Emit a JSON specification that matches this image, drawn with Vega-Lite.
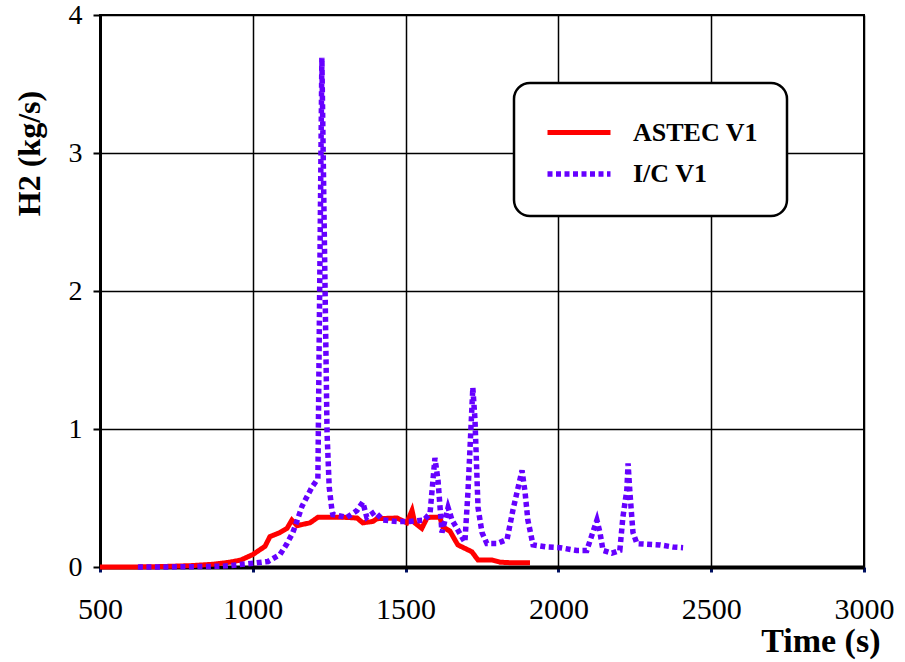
{
  "$schema": "https://vega.github.io/schema/vega-lite/v6.json",
  "width": 764,
  "height": 552,
  "autosize": {"type": "none"},
  "padding": {"left": 100, "top": 15, "right": 41, "bottom": 95},
  "background": "white",
  "config": {
    "view": {"stroke": "black", "strokeWidth": 2},
    "font": "Liberation Serif"
  },
  "data": {
    "values": [
      {"t": 500, "v": 0, "s": "ASTEC V1"},
      {"t": 600, "v": 0, "s": "ASTEC V1"},
      {"t": 700, "v": 0.003, "s": "ASTEC V1"},
      {"t": 800, "v": 0.01, "s": "ASTEC V1"},
      {"t": 870, "v": 0.02, "s": "ASTEC V1"},
      {"t": 925, "v": 0.035, "s": "ASTEC V1"},
      {"t": 960, "v": 0.05, "s": "ASTEC V1"},
      {"t": 1000, "v": 0.09, "s": "ASTEC V1"},
      {"t": 1040, "v": 0.15, "s": "ASTEC V1"},
      {"t": 1056, "v": 0.22, "s": "ASTEC V1"},
      {"t": 1089, "v": 0.25, "s": "ASTEC V1"},
      {"t": 1112, "v": 0.28, "s": "ASTEC V1"},
      {"t": 1128, "v": 0.34, "s": "ASTEC V1"},
      {"t": 1145, "v": 0.3, "s": "ASTEC V1"},
      {"t": 1187, "v": 0.32, "s": "ASTEC V1"},
      {"t": 1213, "v": 0.36, "s": "ASTEC V1"},
      {"t": 1253, "v": 0.36, "s": "ASTEC V1"},
      {"t": 1300, "v": 0.36, "s": "ASTEC V1"},
      {"t": 1341, "v": 0.355, "s": "ASTEC V1"},
      {"t": 1360, "v": 0.32, "s": "ASTEC V1"},
      {"t": 1393, "v": 0.33, "s": "ASTEC V1"},
      {"t": 1406, "v": 0.35, "s": "ASTEC V1"},
      {"t": 1472, "v": 0.355, "s": "ASTEC V1"},
      {"t": 1504, "v": 0.32, "s": "ASTEC V1"},
      {"t": 1521, "v": 0.41, "s": "ASTEC V1"},
      {"t": 1530, "v": 0.32, "s": "ASTEC V1"},
      {"t": 1553, "v": 0.28, "s": "ASTEC V1"},
      {"t": 1570, "v": 0.355, "s": "ASTEC V1"},
      {"t": 1580, "v": 0.36, "s": "ASTEC V1"},
      {"t": 1612, "v": 0.36, "s": "ASTEC V1"},
      {"t": 1622, "v": 0.29, "s": "ASTEC V1"},
      {"t": 1645, "v": 0.26, "s": "ASTEC V1"},
      {"t": 1671, "v": 0.16, "s": "ASTEC V1"},
      {"t": 1717, "v": 0.11, "s": "ASTEC V1"},
      {"t": 1737, "v": 0.05, "s": "ASTEC V1"},
      {"t": 1783, "v": 0.05, "s": "ASTEC V1"},
      {"t": 1809, "v": 0.035, "s": "ASTEC V1"},
      {"t": 1850, "v": 0.03, "s": "ASTEC V1"},
      {"t": 1907, "v": 0.03, "s": "ASTEC V1"},
      {"t": 624, "v": 0, "s": "I/C V1"},
      {"t": 700, "v": 0, "s": "I/C V1"},
      {"t": 800, "v": 0.002, "s": "I/C V1"},
      {"t": 900, "v": 0.006, "s": "I/C V1"},
      {"t": 925, "v": 0.01, "s": "I/C V1"},
      {"t": 1013, "v": 0.03, "s": "I/C V1"},
      {"t": 1050, "v": 0.04, "s": "I/C V1"},
      {"t": 1089, "v": 0.09, "s": "I/C V1"},
      {"t": 1112, "v": 0.17, "s": "I/C V1"},
      {"t": 1131, "v": 0.25, "s": "I/C V1"},
      {"t": 1148, "v": 0.355, "s": "I/C V1"},
      {"t": 1161, "v": 0.44, "s": "I/C V1"},
      {"t": 1194, "v": 0.58, "s": "I/C V1"},
      {"t": 1213, "v": 0.64, "s": "I/C V1"},
      {"t": 1226, "v": 3.69, "s": "I/C V1"},
      {"t": 1243, "v": 0.97, "s": "I/C V1"},
      {"t": 1250, "v": 0.58, "s": "I/C V1"},
      {"t": 1259, "v": 0.41, "s": "I/C V1"},
      {"t": 1262, "v": 0.38, "s": "I/C V1"},
      {"t": 1308, "v": 0.36, "s": "I/C V1"},
      {"t": 1341, "v": 0.41, "s": "I/C V1"},
      {"t": 1360, "v": 0.47, "s": "I/C V1"},
      {"t": 1373, "v": 0.36, "s": "I/C V1"},
      {"t": 1399, "v": 0.4, "s": "I/C V1"},
      {"t": 1426, "v": 0.34, "s": "I/C V1"},
      {"t": 1472, "v": 0.33, "s": "I/C V1"},
      {"t": 1514, "v": 0.33, "s": "I/C V1"},
      {"t": 1560, "v": 0.34, "s": "I/C V1"},
      {"t": 1580, "v": 0.39, "s": "I/C V1"},
      {"t": 1596, "v": 0.79, "s": "I/C V1"},
      {"t": 1606, "v": 0.63, "s": "I/C V1"},
      {"t": 1619, "v": 0.25, "s": "I/C V1"},
      {"t": 1639, "v": 0.43, "s": "I/C V1"},
      {"t": 1652, "v": 0.34, "s": "I/C V1"},
      {"t": 1694, "v": 0.18, "s": "I/C V1"},
      {"t": 1704, "v": 0.54, "s": "I/C V1"},
      {"t": 1720, "v": 1.3, "s": "I/C V1"},
      {"t": 1727, "v": 1.07, "s": "I/C V1"},
      {"t": 1737, "v": 0.43, "s": "I/C V1"},
      {"t": 1750, "v": 0.25, "s": "I/C V1"},
      {"t": 1766, "v": 0.17, "s": "I/C V1"},
      {"t": 1799, "v": 0.17, "s": "I/C V1"},
      {"t": 1832, "v": 0.2, "s": "I/C V1"},
      {"t": 1851, "v": 0.41, "s": "I/C V1"},
      {"t": 1881, "v": 0.7, "s": "I/C V1"},
      {"t": 1891, "v": 0.54, "s": "I/C V1"},
      {"t": 1900, "v": 0.34, "s": "I/C V1"},
      {"t": 1917, "v": 0.16, "s": "I/C V1"},
      {"t": 1962, "v": 0.145, "s": "I/C V1"},
      {"t": 2005, "v": 0.14, "s": "I/C V1"},
      {"t": 2060, "v": 0.12, "s": "I/C V1"},
      {"t": 2093, "v": 0.12, "s": "I/C V1"},
      {"t": 2126, "v": 0.34, "s": "I/C V1"},
      {"t": 2136, "v": 0.25, "s": "I/C V1"},
      {"t": 2146, "v": 0.12, "s": "I/C V1"},
      {"t": 2175, "v": 0.1, "s": "I/C V1"},
      {"t": 2201, "v": 0.12, "s": "I/C V1"},
      {"t": 2211, "v": 0.36, "s": "I/C V1"},
      {"t": 2224, "v": 0.56, "s": "I/C V1"},
      {"t": 2228, "v": 0.75, "s": "I/C V1"},
      {"t": 2234, "v": 0.54, "s": "I/C V1"},
      {"t": 2244, "v": 0.25, "s": "I/C V1"},
      {"t": 2257, "v": 0.17, "s": "I/C V1"},
      {"t": 2332, "v": 0.16, "s": "I/C V1"},
      {"t": 2375, "v": 0.145, "s": "I/C V1"},
      {"t": 2408, "v": 0.14, "s": "I/C V1"}
    ]
  },
  "mark": {"type": "line", "strokeJoin": "miter", "strokeCap": "butt"},
  "encoding": {
    "x": {
      "field": "t", "type": "quantitative",
      "scale": {"domain": [500, 3000], "nice": false, "zero": false},
      "axis": {
        "values": [500, 1000, 1500, 2000, 2500, 3000],
        "format": "d",
        "title": "Time (s)",
        "titleFont": "Liberation Serif", "titleFontSize": 34, "titleFontWeight": "bold", "titleColor": "black",
        "titleAnchor": null, "titleAlign": "right", "titleBaseline": "alphabetic", "titleX": 780, "titleY": 84,
        "labelFont": "Liberation Serif", "labelFontSize": 30, "labelColor": "black", "labelPadding": 22,
        "labelFlush": false, "labelOverlap": false,
        "tickSize": 5, "tickColor": "#001060", "tickWidth": 3,
        "domainColor": "black", "domainWidth": 4,
        "grid": true, "gridColor": "black", "gridWidth": 1.5, "gridOpacity": 1
      }
    },
    "y": {
      "field": "v", "type": "quantitative",
      "scale": {"domain": [0, 4], "nice": false},
      "axis": {
        "values": [0, 1, 2, 3, 4],
        "format": "d",
        "title": "H2 (kg/s)",
        "titleFont": "Liberation Serif", "titleFontSize": 32, "titleFontWeight": "bold", "titleColor": "black",
        "titleAnchor": null, "titleAngle": -90, "titleAlign": "center", "titleBaseline": "middle", "titleX": -71, "titleY": 138,
        "labelFont": "Liberation Serif", "labelFontSize": 28, "labelColor": "black", "labelPadding": 11,
        "labelFlush": false, "labelOverlap": false,
        "tickSize": 7, "tickColor": "black", "tickWidth": 2,
        "domainColor": "black", "domainWidth": 3,
        "grid": true, "gridColor": "black", "gridWidth": 1.5, "gridOpacity": 1
      }
    },
    "color": {
      "field": "s", "type": "nominal",
      "scale": {"domain": ["ASTEC V1", "I/C V1"], "range": ["#ff0000", "#6600ff"]},
      "legend": {
        "title": null, "orient": "none", "legendX": 414, "legendY": 68,
        "fillColor": "white", "strokeColor": "black", "cornerRadius": 16,
        "padding": 29, "rowPadding": 7,
        "symbolType": "M-1.75,0H1.75", "symbolSize": 1296, "symbolStrokeWidth": 5, "symbolOffset": 15,
        "labelFont": "Liberation Serif", "labelFontSize": 26, "labelFontWeight": "bold", "labelColor": "black",
        "labelOffset": 33,
        "encode": {"legend": {"update": {"strokeWidth": {"value": 2.5}}}}
      }
    },
    "strokeDash": {
      "field": "s", "type": "nominal",
      "scale": {"domain": ["ASTEC V1", "I/C V1"], "range": [[1, 0], [5, 3.5]]}
    },
    "strokeWidth": {
      "field": "s", "type": "nominal",
      "scale": {"domain": ["ASTEC V1", "I/C V1"], "range": [5, 5.5]},
      "legend": null
    }
  }
}
